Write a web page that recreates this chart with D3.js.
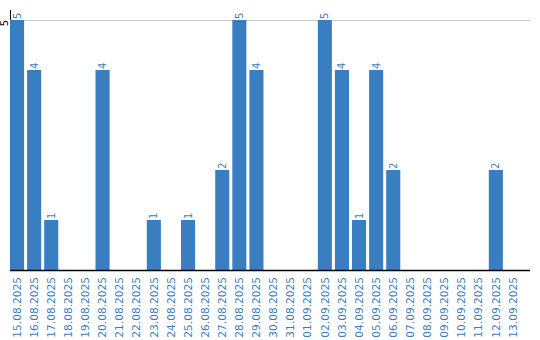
<!DOCTYPE html>
<html>
<head>
<meta charset="utf-8">
<script src="https://cdn.jsdelivr.net/npm/d3@7"></script>
<style>
  body { margin: 0; background: #fff; }
  text { font-family: "DejaVu Sans", Verdana, sans-serif; font-size: 10px; }
  .xlab { font-size: 10.6px; }
</style>
</head>
<body>
<svg id="chart"></svg>
<script>
var w = 540;
var h = 340;

var dates = ["15.08.2025", "16.08.2025", "17.08.2025", "18.08.2025", "19.08.2025",
  "20.08.2025", "21.08.2025", "22.08.2025", "23.08.2025", "24.08.2025",
  "25.08.2025", "26.08.2025", "27.08.2025", "28.08.2025", "29.08.2025",
  "30.08.2025", "31.08.2025", "01.09.2025", "02.09.2025", "03.09.2025",
  "04.09.2025", "05.09.2025", "06.09.2025", "07.09.2025", "08.09.2025",
  "09.09.2025", "10.09.2025", "11.09.2025", "12.09.2025", "13.09.2025"];
var counts = [5, 4, 1, 0, 0, 4, 0, 0, 1, 0, 1, 0, 2, 5, 4, 0, 0, 0, 5, 4, 1, 4, 2, 0, 0, 0, 0, 0, 2, 0];
var yTicks = [5];

var blue = "#3a7ec2";
var mLeft = 10, mRight = 530, mBottom = 270, mTop = 10;

var x = d3.scaleBand().domain(dates).range([mLeft, mLeft + 17 * dates.length]).paddingInner(3 / 17).paddingOuter(0).align(0);
var y = d3.scaleLinear().domain([0, 5.2]).range([mBottom, mTop]);

var svg = d3.select("#chart").attr("width", w).attr("height", h);

// grid
svg.append("g").selectAll("line").data(yTicks).enter().append("line")
  .attr("x1", mLeft).attr("x2", mRight)
  .attr("y1", function(d) { return y(d) + 0.5; }).attr("y2", function(d) { return y(d) + 0.5; })
  .attr("stroke", "#c8c8c8").attr("stroke-width", 1);

// y axis
svg.append("line").attr("x1", mLeft + 0.5).attr("x2", mLeft + 0.5).attr("y1", mTop).attr("y2", mBottom)
  .attr("stroke", "#000");
svg.append("g").selectAll("text").data(yTicks).enter().append("text")
  .attr("transform", function(d) { return "translate(8," + (y(d) + 3) + ") rotate(-90)"; })
  .attr("text-anchor", "middle")
  .attr("fill", "#000")
  .text(function(d) { return d; });

// bars
svg.append("g").selectAll("rect").data(counts).enter().append("rect")
  .attr("x", function(d, i) { return x(dates[i]); })
  .attr("width", x.bandwidth())
  .attr("y", function(d) { return y(d); })
  .attr("height", function(d) { return mBottom - y(d); })
  .attr("fill", blue);

// value labels
var vals = counts.map(function(d, i) { return {v: d, k: dates[i]}; }).filter(function(d) { return d.v > 0; });
svg.append("g").selectAll("text").data(vals).enter().append("text")
  .attr("transform", function(d) { return "translate(" + (x(d.k) + x.bandwidth() / 2) + "," + (y(d.v) - 1) + ") rotate(-90)"; })
  .attr("dy", "0.35em")
  .attr("text-anchor", "start")
  .attr("fill", blue)
  .text(function(d) { return d.v; });

// baseline
svg.append("line").attr("x1", mLeft).attr("x2", mRight).attr("y1", mBottom + 0.5).attr("y2", mBottom + 0.5)
  .attr("stroke", "#000").attr("stroke-width", 1.5);

// x labels
svg.append("g").selectAll("text").data(dates).enter().append("text")
  .attr("class", "xlab")
  .attr("transform", function(d) { return "translate(" + (x(d) + x.bandwidth() / 2) + "," + (mBottom + 7) + ") rotate(-90)"; })
  .attr("dy", "0.35em")
  .attr("text-anchor", "end")
  .attr("fill", blue)
  .text(function(d) { return d; });
</script>
</body>
</html>
